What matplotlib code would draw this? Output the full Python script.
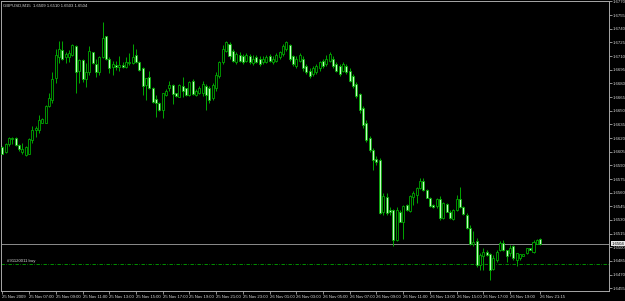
import numpy as np
import matplotlib
matplotlib.use('Agg')
import matplotlib.pyplot as plt
import matplotlib.transforms as mtransforms
from matplotlib import font_manager

# GBPUSD M15 bars, 25 Nov 2009 05:00 .. 26 Nov 2009 21:15
symbol = 'GBPUSD,M15'

opens = [
    1.6610, 1.6605, 1.6613, 1.6619, 1.6620, 1.6612, 1.6605, 1.6601, 1.6603, 1.6618,
    1.6629, 1.6629, 1.6637, 1.6637, 1.6655, 1.6662, 1.6686, 1.6709, 1.6717, 1.6709,
    1.6709, 1.6711, 1.6721, 1.6694, 1.6706, 1.6685, 1.6692, 1.6714, 1.6701, 1.6692,
    1.6709, 1.6732, 1.6707, 1.6698, 1.6700, 1.6698, 1.6700, 1.6698, 1.6702, 1.6702,
    1.6711, 1.6703, 1.6697, 1.6678, 1.6687, 1.6675, 1.6663, 1.6659, 1.6651, 1.6667,
    1.6675, 1.6678, 1.6669, 1.6665, 1.6677, 1.6675, 1.6667, 1.6683, 1.6667, 1.6670,
    1.6670, 1.6677, 1.6675, 1.6664, 1.6675, 1.6688, 1.6703, 1.6716, 1.6723, 1.6716,
    1.6703, 1.6711, 1.6710, 1.6705, 1.6710, 1.6702, 1.6709, 1.6707, 1.6703, 1.6704,
    1.6710, 1.6703, 1.6705, 1.6709, 1.6712, 1.6718, 1.6722, 1.6710, 1.6699, 1.6705,
    1.6707, 1.6699, 1.6694, 1.6690, 1.6692, 1.6697, 1.6705, 1.6701, 1.6705, 1.6707,
    1.6701, 1.6699, 1.6694, 1.6699, 1.6694, 1.6688, 1.6679, 1.6668, 1.6653, 1.6637,
    1.6620, 1.6607, 1.6597, 1.6596, 1.6539, 1.6555, 1.6541, 1.6541, 1.6508, 1.6539,
    1.6528, 1.6547, 1.6540, 1.6555, 1.6557, 1.6565, 1.6573, 1.6563, 1.6554, 1.6547,
    1.6545, 1.6553, 1.6532, 1.6548, 1.6539, 1.6531, 1.6541, 1.6553, 1.6544, 1.6536,
    1.6521, 1.6504, 1.6507, 1.6481, 1.6490, 1.6495, 1.6493, 1.6476, 1.6486, 1.6497,
    1.6505, 1.6497, 1.6494, 1.6501, 1.6486, 1.6488, 1.6490, 1.6494, 1.6499, 1.6495,
    1.6504, 1.6509,
]
highs = [
    1.6611, 1.6614, 1.6621, 1.6621, 1.6621, 1.6613, 1.6614, 1.6611, 1.6620, 1.6633,
    1.6633, 1.6645, 1.6642, 1.6656, 1.6669, 1.6692, 1.6718, 1.6727, 1.6727, 1.6714,
    1.6717, 1.6723, 1.6722, 1.6707, 1.6707, 1.6702, 1.6721, 1.6715, 1.6707, 1.6710,
    1.6747, 1.6732, 1.6709, 1.6705, 1.6705, 1.6710, 1.6703, 1.6709, 1.6713, 1.6723,
    1.6718, 1.6705, 1.6698, 1.6686, 1.6694, 1.6676, 1.6667, 1.6660, 1.6669, 1.6674,
    1.6683, 1.6679, 1.6670, 1.6679, 1.6687, 1.6675, 1.6683, 1.6685, 1.6674, 1.6677,
    1.6683, 1.6679, 1.6677, 1.6680, 1.6692, 1.6705, 1.6722, 1.6727, 1.6725, 1.6718,
    1.6714, 1.6714, 1.6712, 1.6713, 1.6712, 1.6711, 1.6711, 1.6710, 1.6710, 1.6711,
    1.6712, 1.6710, 1.6713, 1.6716, 1.6723, 1.6727, 1.6723, 1.6711, 1.6710, 1.6713,
    1.6710, 1.6701, 1.6697, 1.6699, 1.6701, 1.6705, 1.6707, 1.6711, 1.6714, 1.6710,
    1.6703, 1.6701, 1.6703, 1.6701, 1.6697, 1.6690, 1.6681, 1.6670, 1.6655, 1.6640,
    1.6622, 1.6609, 1.6600, 1.6598, 1.6560, 1.6560, 1.6544, 1.6542, 1.6544, 1.6541,
    1.6547, 1.6548, 1.6557, 1.6562, 1.6566, 1.6576, 1.6576, 1.6564, 1.6555, 1.6548,
    1.6554, 1.6556, 1.6550, 1.6549, 1.6541, 1.6542, 1.6557, 1.6566, 1.6545, 1.6538,
    1.6524, 1.6518, 1.6510, 1.6494, 1.6499, 1.6497, 1.6494, 1.6491, 1.6497, 1.6507,
    1.6508, 1.6497, 1.6502, 1.6503, 1.6494, 1.6493, 1.6493, 1.6499, 1.6499, 1.6508,
    1.6509, 1.6510,
]
lows = [
    1.6602, 1.6604, 1.6611, 1.6613, 1.6611, 1.6606, 1.6603, 1.6600, 1.6602, 1.6614,
    1.6621, 1.6625, 1.6636, 1.6636, 1.6654, 1.6659, 1.6680, 1.6702, 1.6706, 1.6702,
    1.6703, 1.6710, 1.6670, 1.6680, 1.6681, 1.6676, 1.6689, 1.6701, 1.6687, 1.6689,
    1.6708, 1.6706, 1.6691, 1.6689, 1.6695, 1.6694, 1.6697, 1.6697, 1.6700, 1.6701,
    1.6702, 1.6694, 1.6667, 1.6662, 1.6674, 1.6659, 1.6643, 1.6650, 1.6642, 1.6666,
    1.6672, 1.6657, 1.6665, 1.6665, 1.6665, 1.6666, 1.6666, 1.6667, 1.6666, 1.6668,
    1.6666, 1.6651, 1.6659, 1.6662, 1.6672, 1.6686, 1.6701, 1.6714, 1.6707, 1.6703,
    1.6701, 1.6703, 1.6701, 1.6703, 1.6701, 1.6700, 1.6702, 1.6699, 1.6701, 1.6702,
    1.6703, 1.6701, 1.6703, 1.6707, 1.6710, 1.6716, 1.6705, 1.6699, 1.6697, 1.6703,
    1.6694, 1.6690, 1.6686, 1.6688, 1.6690, 1.6694, 1.6697, 1.6699, 1.6703, 1.6697,
    1.6692, 1.6688, 1.6692, 1.6690, 1.6681, 1.6675, 1.6664, 1.6648, 1.6631, 1.6616,
    1.6605, 1.6585, 1.6590, 1.6537, 1.6536, 1.6536, 1.6536, 1.6501, 1.6507, 1.6528,
    1.6509, 1.6540, 1.6539, 1.6547, 1.6549, 1.6564, 1.6562, 1.6554, 1.6544, 1.6543,
    1.6543, 1.6530, 1.6531, 1.6539, 1.6531, 1.6530, 1.6540, 1.6543, 1.6536, 1.6520,
    1.6503, 1.6501, 1.6478, 1.6475, 1.6475, 1.6490, 1.6464, 1.6475, 1.6484, 1.6496,
    1.6496, 1.6484, 1.6490, 1.6486, 1.6479, 1.6486, 1.6490, 1.6493, 1.6497, 1.6494,
    1.6504, 1.6503,
]
closes = [
    1.6603, 1.6613, 1.6620, 1.6620, 1.6612, 1.6608, 1.6608, 1.6610, 1.6619, 1.6629,
    1.6631, 1.6640, 1.6641, 1.6655, 1.6664, 1.6685, 1.6711, 1.6718, 1.6707, 1.6712,
    1.6713, 1.6722, 1.6692, 1.6706, 1.6685, 1.6692, 1.6716, 1.6702, 1.6692, 1.6709,
    1.6730, 1.6707, 1.6697, 1.6701, 1.6698, 1.6700, 1.6698, 1.6703, 1.6704, 1.6709,
    1.6703, 1.6695, 1.6677, 1.6686, 1.6675, 1.6660, 1.6658, 1.6651, 1.6669, 1.6672,
    1.6678, 1.6668, 1.6666, 1.6678, 1.6672, 1.6667, 1.6682, 1.6668, 1.6672, 1.6675,
    1.6679, 1.6667, 1.6662, 1.6678, 1.6689, 1.6703, 1.6718, 1.6725, 1.6710, 1.6705,
    1.6712, 1.6705, 1.6703, 1.6711, 1.6703, 1.6707, 1.6704, 1.6701, 1.6707, 1.6709,
    1.6705, 1.6707, 1.6711, 1.6714, 1.6721, 1.6725, 1.6707, 1.6701, 1.6707, 1.6711,
    1.6697, 1.6692, 1.6688, 1.6697, 1.6699, 1.6703, 1.6699, 1.6707, 1.6712, 1.6699,
    1.6694, 1.6690, 1.6701, 1.6692, 1.6683, 1.6677, 1.6666, 1.6651, 1.6634, 1.6618,
    1.6607, 1.6596, 1.6594, 1.6538, 1.6556, 1.6538, 1.6539, 1.6508, 1.6541, 1.6528,
    1.6545, 1.6541, 1.6556, 1.6560, 1.6565, 1.6573, 1.6563, 1.6554, 1.6545, 1.6544,
    1.6553, 1.6532, 1.6549, 1.6539, 1.6532, 1.6541, 1.6553, 1.6544, 1.6537, 1.6521,
    1.6504, 1.6506, 1.6481, 1.6492, 1.6495, 1.6491, 1.6475, 1.6488, 1.6495, 1.6505,
    1.6497, 1.6490, 1.6499, 1.6488, 1.6494, 1.6493, 1.6493, 1.6499, 1.6497, 1.6506,
    1.6508, 1.6504,
]

time_labels = [
    '25 Nov 2009', '25 Nov 07:00', '25 Nov 09:00', '25 Nov 11:00', '25 Nov 13:00',
    '25 Nov 15:00', '25 Nov 17:00', '25 Nov 19:00', '25 Nov 21:00', '25 Nov 23:00',
    '26 Nov 01:00', '26 Nov 03:00', '26 Nov 05:00', '26 Nov 07:00', '26 Nov 09:00',
    '26 Nov 11:00', '26 Nov 13:00', '26 Nov 15:00', '26 Nov 17:00', '26 Nov 19:00',
    '26 Nov 21:15',
]
label_bars = list(range(0, 153, 8)) + [161]

price_ticks = [1.6455, 1.6470, 1.6485, 1.6500, 1.6515, 1.6530, 1.6545, 1.6560,
               1.6575, 1.6590, 1.6605, 1.6620, 1.6635, 1.6650, 1.6665, 1.6680,
               1.6695, 1.6710, 1.6725, 1.6740, 1.6755, 1.6770]

order_price = 1.6482
order_label = '#91120011 buy'

# colours (MT4 green on black, as seen after downscaling)
bg = '#000000'
wick_col = '#00a800'
bear_fill = '#c4fcc4'
fg = '#a8a8a8'
txt = '#d8d8d8'

# a narrow face if there is one, else plain Liberation Sans a bit smaller
installed = {f.name for f in font_manager.fontManager.ttflist}
if 'Liberation Sans Narrow' in installed:
    font = ['Liberation Sans Narrow', 'DejaVu Sans']
    fs = 3.7
else:
    font = ['Liberation Sans', 'DejaVu Sans']
    fs = 3.05

o = np.array(opens)
h = np.array(highs)
l = np.array(lows)
c = np.array(closes)
x = np.arange(len(o))
up = c >= o

fig = plt.figure(figsize=(6.25, 3.01), dpi=100, facecolor=bg)
ax = fig.add_axes([1 / 625, 10 / 301, 608 / 625, 290 / 301])
ax.set_facecolor(bg)

ax.vlines(x, l, h, color=wick_col, linewidth=0.7, zorder=2)
body_low = np.minimum(o, c)
body_h = np.maximum(np.abs(c - o), 0.00004)
ax.bar(x[up], body_h[up], bottom=body_low[up], width=0.6,
       color='black', edgecolor=wick_col, linewidth=0.6, zorder=3)
ax.bar(x[~up], body_h[~up], bottom=body_low[~up], width=0.6,
       color=bear_fill, edgecolor=wick_col, linewidth=0.6, zorder=3)

# current bid line and the open order line
last = closes[-1]
ax.axhline(last, color='#8c8c8c', linewidth=0.7, zorder=1)
ax.axhline(order_price, color='#009000', linewidth=0.7,
           linestyle=(0, (3.5, 1.5, 0.7, 1.5)), zorder=1)
ax.text(1.5, order_price + 0.00006, order_label, color=txt, fontsize=fs,
        family=font, ha='left', va='bottom')

ax.set_xlim(-0.4, 181.6)
ax.set_ylim(1.6452, 1.67705)

for side in ax.spines.values():
    side.set_color(fg)
    side.set_linewidth(0.7)

ax.yaxis.tick_right()
ax.set_yticks(price_ticks)
ax.set_yticklabels(['%.4f' % p for p in price_ticks])
ax.tick_params(axis='y', direction='out', length=2.0, width=0.6, color=fg,
               labelsize=fs, labelcolor=txt, pad=0.8)
ax.set_xticks(label_bars)
ax.set_xticklabels(time_labels)
ax.tick_params(axis='x', direction='out', length=2.5, width=0.6, color=fg,
               labelsize=fs, labelcolor=txt, pad=0.5)
for lbl in ax.get_xticklabels() + ax.get_yticklabels():
    lbl.set_family(font)
for lbl in ax.get_xticklabels():
    lbl.set_ha('left')

# price box on the scale
trans = mtransforms.blended_transform_factory(ax.transAxes, ax.transData)
ax.text(1.005, last, '%.4f' % last, transform=trans, fontsize=fs, family=font,
        color='black', ha='left', va='center',
        bbox=dict(boxstyle='square,pad=0.15', facecolor='#e8e8e8', edgecolor='none'))

# header with symbol and last bar OHLC
ax.text(0.004, 0.992, '%s  %.4f %.4f %.4f %.4f' % (symbol, o[-1], h[-1], l[-1], c[-1]),
        transform=ax.transAxes, fontsize=fs, family=font, color=txt,
        ha='left', va='top')

fig.savefig('out.png', dpi=100, facecolor=bg)
